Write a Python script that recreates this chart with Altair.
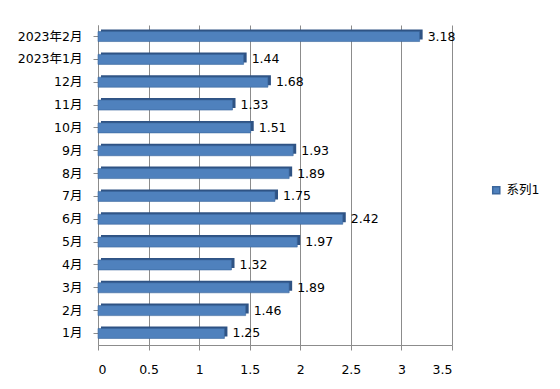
import altair as alt
import pandas as pd

categories = ["1月", "2月", "3月", "4月", "5月", "6月", "7月", "8月", "9月",
              "10月", "11月", "12月", "2023年1月", "2023年2月"]
values = [1.25, 1.46, 1.89, 1.32, 1.97, 2.42, 1.75, 1.89, 1.93,
          1.51, 1.33, 1.68, 1.44, 3.18]
series_name = "系列1"
x_ticks = [0, 0.5, 1, 1.5, 2, 2.5, 3, 3.5]

df = pd.DataFrame({"cat": categories, "val": values,
                   "series": [series_name] * len(categories)})
order = categories[::-1]

FONT = "DejaVu Sans, Noto Sans CJK SC, sans-serif"

y_enc = alt.Y("cat:N", sort=order, title=None,
              scale=alt.Scale(paddingInner=0.55, paddingOuter=0.28),
              axis=alt.Axis(domainColor="#8c8c8c", tickColor="#8c8c8c", tickSize=5,
                            labelPadding=11, labelFontSize=12.5, labelColor="#000000",
                            labelFont=FONT, grid=False))
x_enc = alt.X("val:Q", title=None,
              scale=alt.Scale(domain=[0, 3.5], nice=False),
              axis=alt.Axis(values=x_ticks, format="~g", domainColor="#8c8c8c",
                            tickColor="#8c8c8c", tickSize=5, labelPadding=13,
                            labelFontSize=12.5, labelColor="#000000", labelFont=FONT,
                            grid=True, gridColor="#8c8c8c", gridWidth=1))

base = alt.Chart(df).encode(y=y_enc)

side = base.mark_bar(size=10, color="#2f5384", xOffset=3, yOffset=-2).encode(
    x=x_enc)

front = base.mark_bar(size=10, stroke="#3b669c", strokeWidth=0.6).encode(
    x=alt.X("val:Q"),
    color=alt.Color("series:N",
                    scale=alt.Scale(domain=[series_name], range=["#4F81BD"]),
                    legend=alt.Legend(title=None, orient="none", legendX=392, legendY=159,
                                      symbolType="square", symbolSize=50,
                                      labelFontSize=12.5, labelFont=FONT,
                                      labelColor="#000000")))

labels = base.mark_text(align="left", baseline="middle", dx=8, fontSize=12.5,
                        font=FONT, color="#000000").encode(
    x=alt.X("val:Q"), text=alt.Text("val:Q", format=".2f"))

chart = alt.layer(side, front, labels).properties(
    width=354, height=320,
    autosize=alt.AutoSizeParams(type="none"),
    padding={"left": 90, "top": 17, "right": 100, "bottom": 36},
    background="#ffffff",
).configure_view(stroke=None)

chart.save("out.html", embed_options={"renderer": "svg", "actions": False})
